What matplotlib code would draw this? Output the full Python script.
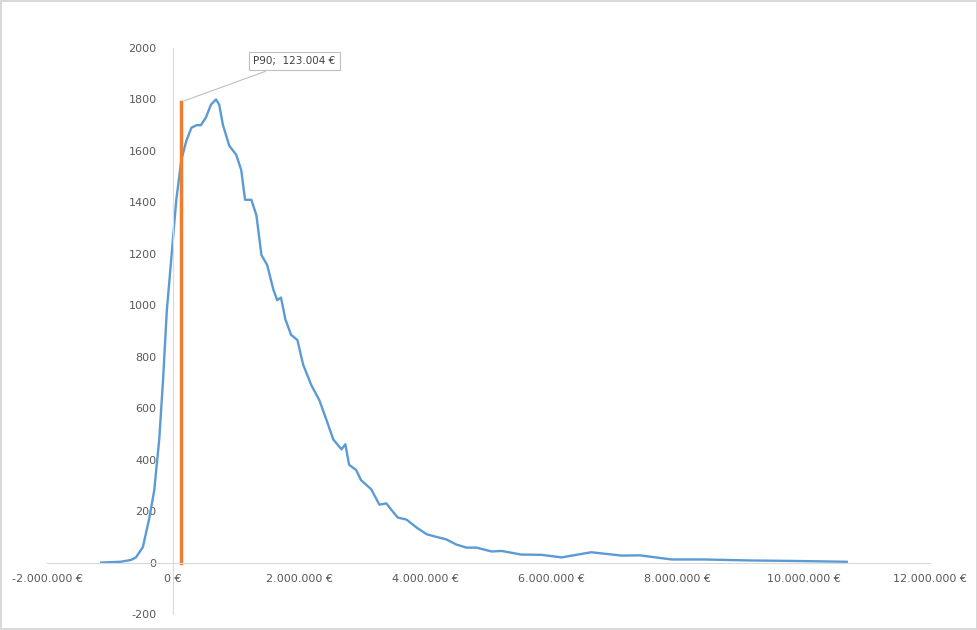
import numpy as np
import matplotlib.pyplot as plt

plt.rcParams['axes.unicode_minus'] = False

# curve (x in euro, y count)
xs = [-1.14e6, -0.83e6, -0.67e6, -0.59e6, -0.48e6, -0.38e6, -0.30e6, -0.22e6, -0.16e6, -0.10e6,
      -0.03e6, 0.05e6, 0.13e6, 0.21e6, 0.29e6, 0.37e6, 0.44e6, 0.52e6, 0.60e6, 0.68e6,
      0.73e6, 0.79e6, 0.89e6, 1.00e6, 1.08e6, 1.14e6, 1.24e6, 1.32e6, 1.40e6, 1.49e6,
      1.59e6, 1.65e6, 1.71e6, 1.78e6, 1.87e6, 1.97e6, 2.06e6, 2.19e6, 2.32e6, 2.43e6,
      2.54e6, 2.67e6, 2.73e6, 2.79e6, 2.90e6, 2.98e6, 3.14e6, 3.27e6, 3.38e6, 3.46e6,
      3.56e6, 3.70e6, 3.86e6, 4.02e6, 4.17e6, 4.33e6, 4.49e6, 4.65e6, 4.81e6, 5.05e6,
      5.21e6, 5.52e6, 5.84e6, 6.16e6, 6.63e6, 7.11e6, 7.40e6, 7.90e6, 8.40e6, 9.17e6,
      9.90e6, 10.68e6]
ys = [0, 3, 10, 20, 60, 170, 280, 480, 710, 980,
      1180, 1410, 1565, 1640, 1690, 1700, 1700, 1730, 1780, 1800,
      1780, 1700, 1620, 1585, 1525, 1410, 1410, 1350, 1195, 1157,
      1060, 1020, 1030, 945, 885, 865, 770, 690, 630, 555,
      478, 440, 460, 380, 360, 320, 285, 225, 230, 205,
      175, 167, 136, 110, 100, 90, 70, 58, 58, 43,
      45, 31, 30, 20, 40, 27, 28, 12, 12, 8,
      6, 3]

p90 = 123004
p90_top = 1790

fig = plt.figure(figsize=(9.78, 6.3), dpi=100)
fig.patch.set_edgecolor('#d9d9d9')
fig.patch.set_linewidth(1.5)
ax = fig.add_axes([47 / 978, 1 - 614 / 630, (930 - 47) / 978, (614 - 48) / 630])

ax.plot(xs, ys, color='#5b9bd5', lw=1.7, solid_joinstyle='round')
ax.plot([p90, p90], [0, p90_top], color='#ed7d31', lw=2.5)
ax.annotate('P90;  123.004 €', xy=(p90, p90_top), xytext=(1.27e6, 1950),
            fontsize=7.5, color='#404040', ha='left', va='center',
            bbox=dict(boxstyle='square,pad=0.4', fc='white', ec='#bfbfbf', lw=0.8),
            arrowprops=dict(arrowstyle='-', color='#bfbfbf', lw=0.8))

ax.set_xlim(-2e6, 12e6)
ax.set_ylim(-200, 2000)
ticks = np.arange(-2e6, 12.1e6, 2e6)
ax.set_xticks(ticks)
ax.set_xticklabels([f'{int(v):,} €'.replace(',', '.') for v in ticks])
ax.set_yticks(np.arange(-200, 2001, 200))

for s in ['top', 'right']:
    ax.spines[s].set_visible(False)
ax.spines['left'].set_position(('data', 0))
ax.spines['bottom'].set_position(('data', 0))
for s in ['left', 'bottom']:
    ax.spines[s].set_color('#d9d9d9')
ax.tick_params(length=0, labelsize=8, colors='#595959')
ax.tick_params(axis='y', pad=12)
ax.tick_params(axis='x', pad=8)

fig.savefig('out.png', dpi=100, edgecolor=fig.get_edgecolor())
